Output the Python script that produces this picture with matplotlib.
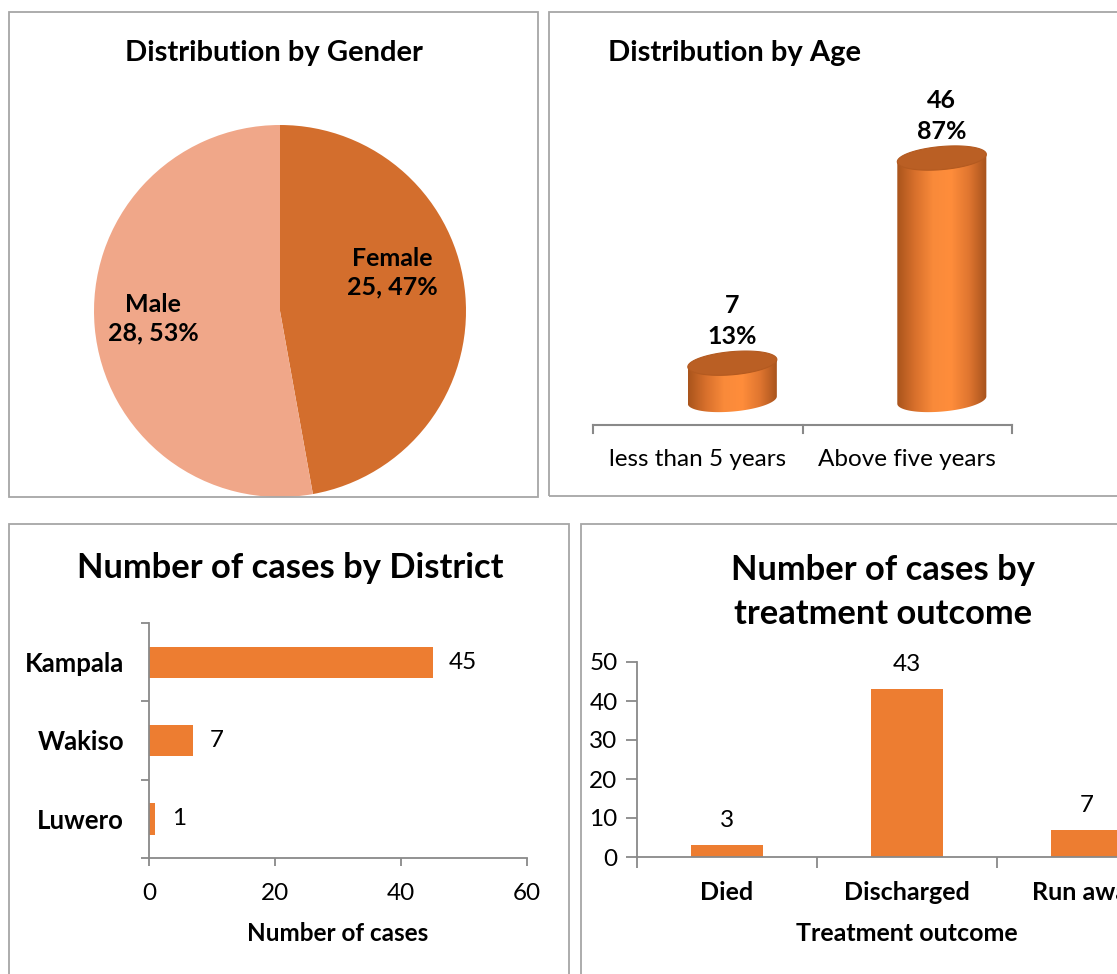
import numpy as np
import matplotlib
matplotlib.use("Agg")
import matplotlib.pyplot as plt
from matplotlib.patches import Rectangle, Polygon
from matplotlib.colors import LinearSegmentedColormap

plt.rcParams['font.family'] = ['Lato', 'DejaVu Sans']

# data
gender_labels = ["Female", "Male"]
gender_counts = [25, 28]
gender_pcts = ["47%", "53%"]

age_labels = ["less than 5 years", "Above five years"]
age_counts = [7, 46]
age_pcts = ["13%", "87%"]

districts = ["Kampala", "Wakiso", "Luwero"]
district_counts = [45, 7, 1]

outcomes = ["Died", "Discharged", "Run away"]
outcome_counts = [3, 43, 7]

ORANGE = '#ED7D31'
AXC = '#898989'
W, H = 1117, 974

fig = plt.figure(figsize=(W / 100, H / 100), dpi=100)


def px_axes(x0, y0, x1, y1):
    return fig.add_axes([x0 / W, 1 - y1 / H, (x1 - x0) / W, (y1 - y0) / H])


def px_text(x, y, s, **kw):
    fig.text(x / W, 1 - y / H, s, ha=kw.pop('ha', 'center'), va=kw.pop('va', 'center'), **kw)


# panel frames
for (x0, y0, x1, y1) in [(9, 12, 538, 497), (549, 12, 1130, 496),
                         (9, 524, 569, 990), (581, 524, 1130, 990)]:
    fig.patches.append(Rectangle((x0 / W, 1 - y1 / H), (x1 - x0) / W, (y1 - y0) / H,
                                 transform=fig.transFigure, fill=False,
                                 edgecolor='#A6A6A6', lw=1.3))

# ---- pie: gender
cx, cy, r = 280, 311, 186
ax = px_axes(cx - r, cy - r, cx + r, cy + r)
ax.pie(gender_counts, colors=['#D36E2D', '#F0A789'], startangle=90,
       counterclock=False, radius=1)
ax.set_xlim(-1, 1)
ax.set_ylim(-1, 1)
ax.set_aspect('auto')
px_text(274, 53, "Distribution by Gender", fontsize=21, fontweight='bold')
px_text(392, 273, f"{gender_labels[0]}\n{gender_counts[0]}, {gender_pcts[0]}",
        fontsize=18, fontweight='bold', linespacing=1.3)
px_text(153, 319, f"{gender_labels[1]}\n{gender_counts[1]}, {gender_pcts[1]}",
        fontsize=18, fontweight='bold', linespacing=1.3)

# ---- 3D-ish cylinders: age
k = 5.26  # px per unit
base = 400
ax = px_axes(593, 100, 1012, 425)
ax.axis('off')
ylo = -(425 - base) / k
ax.plot([0, 2], [ylo] * 2, color=AXC, lw=1.5, clip_on=False)
for xt in [0, 1, 2]:
    ax.plot([xt, xt], [ylo, -(433 - base) / k], color=AXC, lw=1.5, clip_on=False)

cyl_cmap = LinearSegmentedColormap.from_list(
    'cyl', ['#A9541C', '#D8702C', '#F98A3A', '#FF8D3B', '#E07630', '#A6521C'])
w = 0.425
eh = 2.2
sh = 0.7
shift = 0.165  # perspective offset of the cylinders
t = np.linspace(0, 2 * np.pi, 200)
for i, v in enumerate(age_counts):
    xc = i + 0.5 + shift
    tb = np.linspace(np.pi, 2 * np.pi, 100)
    bx = xc + (w / 2) * np.cos(tb)
    by = eh * np.sin(tb) + sh * np.cos(tb)
    tt = np.linspace(0, np.pi, 100)
    topx = xc + (w / 2) * np.cos(tt)
    topy = v + sh * np.cos(tt)
    body = Polygon(np.column_stack([np.r_[bx, topx], np.r_[by, topy]]),
                   closed=True, facecolor='none', edgecolor='none')
    ax.add_patch(body)
    grad = np.linspace(0, 1, 256).reshape(1, -1)
    im = ax.imshow(grad, cmap=cyl_cmap, aspect='auto',
                   extent=[xc - w / 2, xc + w / 2, -eh - 1, v + eh + 1], zorder=2)
    im.set_clip_path(body)
    top = Polygon(np.column_stack([xc + (w / 2) * np.cos(t),
                                   v + eh * np.sin(t) + sh * np.cos(t)]), closed=True,
                  facecolor='#BA5F24', edgecolor='#B35A20', lw=0.8, zorder=3)
    ax.add_patch(top)
    ax.text(xc, v + eh + 0.6, f"{v}\n{age_pcts[i]}", ha='center', va='bottom',
            fontsize=18, fontweight='bold', linespacing=1.45)
ax.set_xlim(0, 2)
ax.set_ylim(ylo, (base - 100) / k)
for i, lab in enumerate(age_labels):
    px_text(593 + 209.5 * (i + 0.5), 460, lab, fontsize=17.5)
px_text(608, 53, "Distribution by Age", fontsize=21, fontweight='bold', ha='left')

# ---- horizontal bars: district
ax = px_axes(149, 623, 527, 858)
yp = np.arange(len(districts))
ax.barh(yp, district_counts, height=0.4, color=ORANGE)
ax.set_ylim(len(districts) - 0.5, -0.5)
ax.set_xlim(0, 60)
ax.set_xticks([0, 20, 40, 60])
ax.set_yticks(np.arange(-0.5, len(districts), 1.0))
ax.set_yticklabels([])
ax.set_yticks(yp, minor=True)
ax.set_yticklabels(districts, minor=True, fontsize=18.5, fontweight='bold')
ax.tick_params(axis='y', which='minor', length=0, pad=18)
ax.tick_params(axis='y', which='major', length=6, color=AXC, width=1.3)
ax.tick_params(axis='x', length=6, color=AXC, width=1.3, labelsize=17.5, pad=12)
for s in ['top', 'right']:
    ax.spines[s].set_visible(False)
for s in ['left', 'bottom']:
    ax.spines[s].set_color(AXC)
    ax.spines[s].set_linewidth(1.3)
ax.set_xlabel("Number of cases", fontsize=17.5, fontweight='bold', labelpad=13)
for yi, v in zip(yp, district_counts):
    ax.annotate(str(v), (v, yi), xytext=(12, 0), textcoords='offset points',
                ha='left', va='center', fontsize=17.5)
px_text(290, 568, "Number of cases by District", fontsize=24.8, fontweight='bold')

# ---- vertical bars: outcome
ax = px_axes(637, 662, 1177, 857)
xp = np.arange(len(outcomes))
ax.bar(xp, outcome_counts, width=0.4, color=ORANGE)
ax.set_xlim(-0.5, len(outcomes) - 0.5)
ax.set_ylim(0, 50)
ax.set_yticks(range(0, 51, 10))
ax.set_xticks(np.arange(-0.5, len(outcomes), 1.0))
ax.set_xticklabels([])
ax.set_xticks(xp, minor=True)
ax.set_xticklabels(outcomes, minor=True, fontsize=18, fontweight='bold')
ax.tick_params(axis='x', which='minor', length=0, pad=17)
ax.tick_params(axis='x', which='major', length=8, color=AXC, width=1.3)
ax.tick_params(axis='y', length=8, color=AXC, width=1.3, labelsize=17.5, pad=6)
for s in ['top', 'right']:
    ax.spines[s].set_visible(False)
for s in ['left', 'bottom']:
    ax.spines[s].set_color(AXC)
    ax.spines[s].set_linewidth(1.3)
ax.set_xlabel("Treatment outcome", fontsize=18, fontweight='bold', labelpad=13)
for xi, v in zip(xp, outcome_counts):
    ax.annotate(str(v), (xi, v), xytext=(0, 10), textcoords='offset points',
                ha='center', va='bottom', fontsize=17.5)
px_text(883, 592, "Number of cases by\ntreatment outcome", fontsize=24.8,
        fontweight='bold', linespacing=1.5)

fig.savefig("out.png", dpi=100)
